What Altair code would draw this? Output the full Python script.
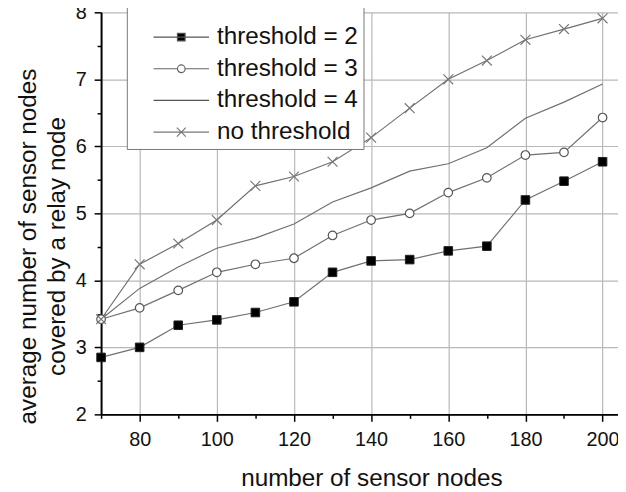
import altair as alt
import pandas as pd

FONT = "Liberation Sans"

# ---- data ----
nodes = [70, 80, 90, 100, 110, 120, 130, 140, 150, 160, 170, 180, 190, 200]
thr2 = [2.85, 3.00, 3.33, 3.41, 3.52, 3.68, 4.12, 4.29, 4.31, 4.44, 4.51, 5.20, 5.48, 5.77]
thr3 = [3.42, 3.59, 3.85, 4.12, 4.24, 4.33, 4.67, 4.90, 5.00, 5.31, 5.53, 5.87, 5.91, 6.43]
thr4 = [3.42, 3.88, 4.20, 4.48, 4.63, 4.84, 5.17, 5.38, 5.63, 5.74, 5.98, 6.42, 6.66, 6.93]
nothr = [3.42, 4.24, 4.55, 4.90, 5.41, 5.55, 5.77, 6.13, 6.57, 7.00, 7.28, 7.59, 7.75, 7.91]

series_names = ["threshold = 2", "threshold = 3", "threshold = 4", "no threshold"]
series_values = [thr2, thr3, thr4, nothr]

x_ticks = [70, 80, 90, 100, 110, 120, 130, 140, 150, 160, 170, 180, 190, 200]
y_ticks = [2, 2.5, 3, 3.5, 4, 4.5, 5, 5.5, 6, 6.5, 7, 7.5, 8]

# ---- styles ----
xcross = "M-1.15,-1.15L1.15,1.15M-1.15,1.15L1.15,-1.15"

leg_paths = [
    "M-0.455,0H1M0.172,-0.1H0.372V0.1H0.172Z",
    "M-0.455,0H0.172M0.172,0A0.1,0.1,0,1,1,0.372,0A0.1,0.1,0,1,1,0.172,0ZM0.372,0H1",
    "M-0.455,0H1",
    "M-0.455,0H1M0.156,-0.117L0.39,0.117M0.156,0.117L0.39,-0.117",
]
leg_fills = ["#000000", "#ffffff", "transparent", "transparent"]
leg_strokes = ["#555555", "#666666", "#555555", "#777777"]

rows = []
for name, vals in zip(series_names, series_values):
    for xv, yv in zip(nodes, vals):
        rows.append({"nodes": xv, "value": yv, "series": name})
df = pd.DataFrame(rows)

xenc = alt.X(
    "nodes:Q",
    scale=alt.Scale(domain=[70, 204], nice=False, zero=False),
    axis=alt.Axis(
        values=x_ticks,
        title="number of sensor nodes",
        labelExpr="datum.value % 20 == 0 ? format(datum.value, 'd') : ''",
        tickSize={"condition": {"test": "datum.value % 20 == 0", "value": 7}, "value": 4},
        gridOpacity={"condition": {"test": "datum.value % 20 == 0", "value": 1}, "value": 0},
        labelPadding=8,
        titlePadding=18,
        titleX=273,
    ),
)
yenc = alt.Y(
    "value:Q",
    scale=alt.Scale(domain=[2, 8], nice=False, zero=False),
    axis=alt.Axis(
        values=y_ticks,
        title=["average number of sensor nodes", "covered by a relay node"],
        labelExpr="datum.value % 1 == 0 ? format(datum.value, 'd') : ''",
        tickSize={"condition": {"test": "datum.value % 1 == 0", "value": 7}, "value": 4},
        gridOpacity={"condition": {"test": "datum.value % 1 == 0", "value": 1}, "value": 0},
        labelPadding=8,
        titlePadding=6,
        titleLineHeight=29,
        titleY=236,
    ),
)

base = alt.Chart(df)

lines = base.mark_line(color="#707070", strokeWidth=1.2).encode(
    x=xenc, y=yenc, detail="series:N"
)

squares = (
    base.transform_filter(alt.datum.series == series_names[0])
    .mark_point(shape="square", filled=True, fill="#000000", stroke="#222222",
                strokeWidth=1, size=75, opacity=1)
    .encode(x=xenc, y=yenc)
)
circles = (
    base.transform_filter(alt.datum.series == series_names[1])
    .mark_point(shape="circle", filled=True, fill="#ffffff", stroke="#555555",
                strokeWidth=1.2, size=75, opacity=1)
    .encode(x=xenc, y=yenc)
)
crosses = (
    base.transform_filter(alt.datum.series == series_names[3])
    .mark_point(shape=xcross, filled=False, stroke="#777777",
                strokeWidth=1.2, size=75, opacity=1)
    .encode(x=xenc, y=yenc)
)

legend_props = dict(
    title=" ",
    orient="none",
    legendX=26,
    legendY=-26,
    symbolSize=5929,
    symbolStrokeWidth=1.2,
    symbolOpacity=1,
    clipHeight=24,
    labelFont=FONT,
    labelFontSize=24.5,
    labelColor="#111111",
    labelOffset=7,
    labelLimit=300,
    labelExpr="datum.label + '\u00a0\u00a0'",
    padding=5,
    rowPadding=7,
    titleFontSize=24,
    titlePadding=10,
    fillColor="white",
    strokeColor="#777777",
)

# legend-only layer (no data drawn)
legend_layer = (
    base.transform_filter("false")
    .mark_point(filled=False, opacity=1)
    .encode(
        x=xenc,
        y=yenc,
        shape=alt.Shape("series:N", scale=alt.Scale(domain=series_names, range=leg_paths),
                        legend=alt.Legend(**legend_props)),
        fill=alt.Fill("series:N", scale=alt.Scale(domain=series_names, range=leg_fills),
                      legend=alt.Legend(**legend_props)),
        stroke=alt.Stroke("series:N", scale=alt.Scale(domain=series_names, range=leg_strokes),
                          legend=alt.Legend(**legend_props)),
    )
)

chart = (
    alt.layer(lines, squares, circles, crosses, legend_layer)
    .properties(
        width=522,
        height=406,
        autosize=alt.AutoSizeParams(type="none"),
        padding={"left": 94, "top": 2, "right": 0, "bottom": 74},
        background="white",
    )
    .configure_view(stroke=None)
    .configure_axis(
        domainColor="#000000",
        domainWidth=2,
        tickColor="#000000",
        tickWidth=1.5,
        labelFont=FONT,
        labelFontSize=20,
        labelColor="#111111",
        titleFont=FONT,
        titleFontSize=24.5,
        titleFontWeight="normal",
        titleColor="#111111",
        gridColor="#b8b8b8",
        gridWidth=1.2,
    )
    .configure_legend(titleFont=FONT)
)

chart.save("out.html", embed_options={"renderer": "svg", "actions": False})
